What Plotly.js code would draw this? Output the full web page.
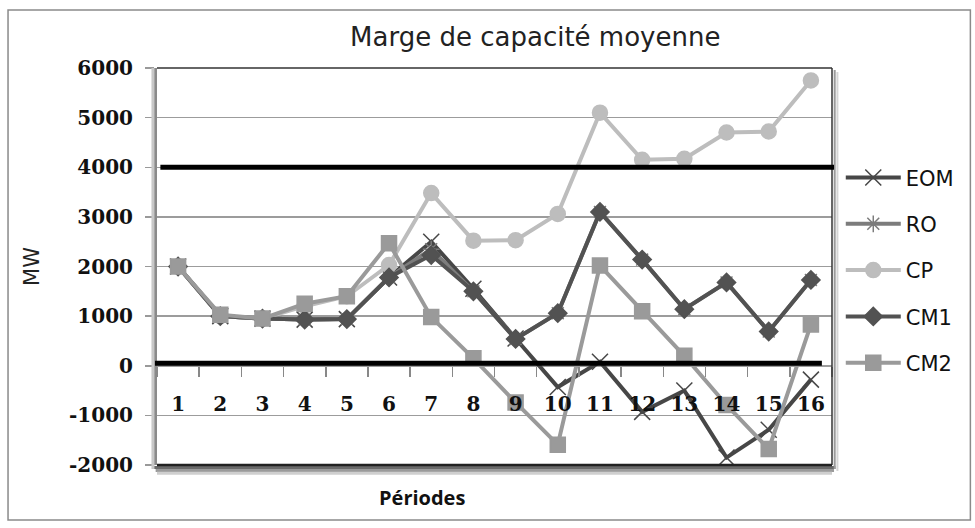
<!DOCTYPE html>
<html>
<head>
<meta charset="utf-8">
<script src="https://cdn.plot.ly/plotly-3.0.1.min.js"></script>
<style>html,body{margin:0;padding:0;background:#fff;}#chart{width:975px;height:528px;}</style>
</head>
<body>
<div id="chart"></div>
<script>
const periods = ["1","2","3","4","5","6","7","8","9","10","11","12","13","14","15","16"];
const EOM = [2000, 1000, 950, 930, 940, 1780, 2500, 1550, 550, -430, 80, -930, -500, -1850, -1290, -280];
const RO  = [2000, 1000, 950, 930, 940, 1780, 2350, 1500, 540, 1060, 3100, 2140, 1140, 1680, 690, 1730];
const CP  = [2000, 1000, 950, 1200, 1400, 2030, 3480, 2520, 2530, 3060, 5100, 4150, 4170, 4700, 4720, 5750];
const CM1 = [2000, 1000, 950, 930, 940, 1780, 2230, 1500, 540, 1060, 3100, 2140, 1140, 1680, 690, 1730];
const CM2 = [2000, 1030, 950, 1250, 1400, 2470, 980, 150, -740, -1590, 2020, 1100, 200, -790, -1680, 830];
const seriesNames = ["EOM", "RO", "CP", "CM1", "CM2"];
const yTickVals = [-2000, -1000, 0, 1000, 2000, 3000, 4000, 5000, 6000];
const yTickLabels = ["-2000", "-1000", "0", "1000", "2000", "3000", "4000", "5000", "6000"];
const thresholds = [4000, 50];

const lineW = 4;
function tr(name, y, color, symbol, size, mline) {
  return {
    type: 'scatter', mode: 'lines+markers', name: name, x: periods, y: y,
    legendgroup: name,
    line: {color: color, width: lineW},
    marker: {symbol: symbol, size: size, color: color, line: {color: mline || color, width: 1.5}}
  };
}
const data = [
  tr(seriesNames[0], EOM, '#474747', 'x-thin-open', 16, '#474747'),
  tr(seriesNames[1], RO, '#7c7c7c', 'asterisk-open', 14, '#7c7c7c'),
  tr(seriesNames[2], CP, '#bdbdbd', 'circle', 15),
  tr(seriesNames[3], CM1, '#525252', 'diamond', 14),
  tr(seriesNames[4], CM2, '#9a9a9a', 'square', 15)
];

const shapes = [
  {type:'rect', xref:'paper', yref:'paper', x0:-0.2207, x1:1.205, y0:-0.1385, y1:1.146, line:{color:'#8a8a8a', width:1.5}},
  {type:'line', xref:'paper', yref:'paper', x0:-0.005, x1:1.005, y0:-0.006, y1:-0.006, line:{color:'#6a6a6a', width:3}},
  {type:'line', xref:'paper', yref:'paper', x0:-0.002, x1:1.003, y0:-0.014, y1:-0.014, line:{color:'#9a9a9a', width:3}},
  {type:'line', xref:'paper', yref:'paper', x0:0.0, x1:1.0, y0:-0.021, y1:-0.021, line:{color:'#cfcfcf', width:3}},
  {type:'line', xref:'paper', yref:'paper', x0:1.004, x1:1.004, y0:-0.01, y1:0.995, line:{color:'#9a9a9a', width:2}},
  {type:'line', xref:'paper', yref:'paper', x0:1.008, x1:1.008, y0:-0.015, y1:0.99, line:{color:'#d5d5d5', width:2}},
  {type:'line', xref:'paper', yref:'paper', x0:-0.006, x1:-0.006, y0:-0.01, y1:1.0, line:{color:'#c8c8c8', width:3}},
  {type:'line', xref:'paper', yref:'paper', x0:0, x1:1, y0:1, y1:1, line:{color:'#333', width:1.5}},
  {type:'line', xref:'paper', yref:'paper', x0:1, x1:1, y0:0, y1:1, line:{color:'#333', width:1.5}},
  {type:'line', xref:'paper', yref:'paper', x0:0, x1:1, y0:0, y1:0, line:{color:'#222', width:2.5}},
  {type:'line', xref:'paper', yref:'y', x0:0.005, x1:1.003, y0:thresholds[0], y1:thresholds[0], line:{color:'#000', width:5}},
  {type:'line', xref:'paper', yref:'y', x0:-0.003, x1:0.985, y0:thresholds[1], y1:thresholds[1], line:{color:'#000', width:5}}
];

const layout = {
  width: 975, height: 528,
  margin: {l:157, r:143, t:68, b:63},
  paper_bgcolor: '#fff', plot_bgcolor: '#fff',
  showlegend: true,
  title: {text: 'Marge de capacité moyenne', x: 0.549, xanchor: 'center', y: 0.93, yanchor: 'middle',
          font: {family: 'DejaVu Sans, Open Sans, sans-serif', size: 26, color: '#222'}},
  xaxis: {
    type: 'category', range: [-0.5, 15.5], anchor: 'free', position: 0.25,
    showgrid: false, zeroline: false, showline: false,
    ticks: 'outside', tickson: 'boundaries', ticklen: 10, tickcolor: '#888', tickwidth: 1.5,
    ticklabelstandoff: 24,
    tickfont: {family: 'DejaVu Serif, Liberation Serif, serif', size: 20, color: '#111', weight: 'bold'}
  },
  yaxis: {
    range: [-2000, 6000], tickmode: 'array', tickvals: yTickVals, ticktext: yTickLabels,
    showgrid: true, gridcolor: '#9c9c9c', gridwidth: 1.5, zeroline: false,
    showline: true, linecolor: '#8a8a8a', linewidth: 3,
    ticks: 'outside', ticklen: 9, tickcolor: '#999', tickwidth: 1.5,
    ticklabelstandoff: 8,
    tickfont: {family: 'DejaVu Serif, Liberation Serif, serif', size: 20, color: '#111', weight: 'bold'},
    title: {text: 'MW', standoff: 24, font: {family: 'DejaVu Sans, Open Sans, sans-serif', size: 21, color: '#222'}}
  },
  legend: {
    x: 1.013, y: 0.775, xanchor: 'left', yanchor: 'top',
    bgcolor: 'rgba(0,0,0,0)', traceorder: 'grouped', tracegroupgap: 16,
    itemwidth: 55,
    font: {family: 'DejaVu Sans, Open Sans, sans-serif', size: 21, color: '#111'}
  },
  annotations: [
    {text: 'Périodes', xref: 'paper', yref: 'paper', x: 0.393, y: -0.081, showarrow: false,
     xanchor: 'center', yanchor: 'middle',
     font: {family: 'Open Sans, DejaVu Sans, sans-serif', size: 20, color: '#111', weight: 'bold'}}
  ],
  shapes: shapes
};

Plotly.newPlot('chart', data, layout, {displayModeBar: false, staticPlot: true});
</script>
</body>
</html>
